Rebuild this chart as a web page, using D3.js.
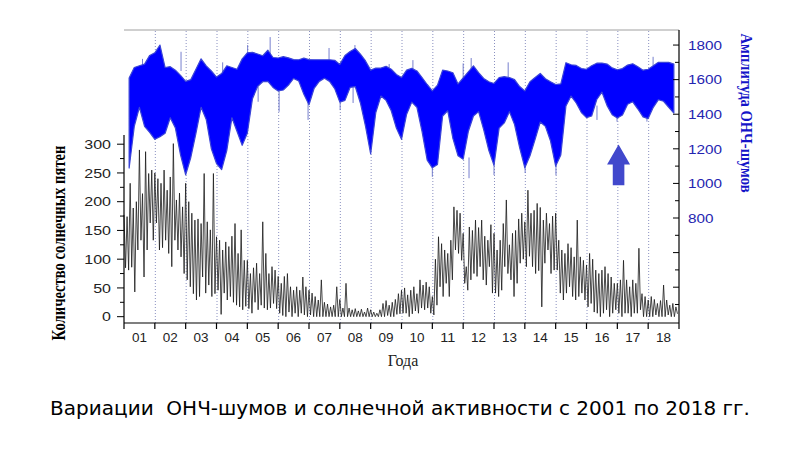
<!DOCTYPE html>
<html>
<head>
<meta charset="utf-8">
<script src="https://cdn.jsdelivr.net/npm/d3@7"></script>
<style>
  html, body { margin: 0; padding: 0; background: #fff; }
  svg { display: block; }
</style>
</head>
<body>
<svg id="chart" width="800" height="449"></svg>
<script>
// ---------- DATA ----------
const yearLabels = ["01","02","03","04","05","06","07","08","09","10","11","12","13","14","15","16","17","18"];
const leftTicks = [0, 50, 100, 150, 200, 250, 300];
const rightTicks = [800, 1000, 1200, 1400, 1600, 1800];

// VLF noise amplitude envelope, every 1/6 year starting 2001 + 1/6
const blueStart = 2001 + 1/6, blueStep = 1/6;
const blueUpper = [
 1609,1670,1680,1690,1740,1755,1800,1670,1675,1655,
 1625,1590,1600,1660,1720,1680,1650,1615,1635,1680,
 1670,1660,1720,1755,1758,1748,1738,1770,1728,1725,
 1733,1726,1716,1715,1724,1716,1715,1715,1715,1715,
 1712,1688,1740,1763,1780,1748,1708,1655,1667,1667,
 1677,1660,1630,1612,1655,1665,1650,1612,1572,1535,
 1568,1655,1650,1640,1575,1610,1645,1680,1640,1607,
 1588,1578,1612,1617,1612,1600,1560,1535,1588,1612,
 1636,1605,1588,1572,1575,1698,1686,1682,1664,1660,
 1680,1695,1696,1690,1668,1657,1664,1684,1692,1675,
 1655,1660,1680,1700,1700,1700,1690];
const blueLower = [
 1089,1330,1440,1330,1295,1255,1270,1290,1380,1320,
 1165,1050,1150,1290,1440,1370,1200,1115,1080,1190,
 1380,1300,1220,1290,1490,1560,1588,1590,1555,1535,
 1540,1568,1607,1592,1515,1455,1550,1590,1608,1590,
 1548,1470,1480,1555,1560,1465,1330,1170,1410,1505,
 1480,1420,1320,1255,1400,1470,1440,1300,1135,1090,
 1110,1390,1420,1260,1160,1140,1300,1390,1415,1310,
 1190,1105,1320,1350,1415,1340,1205,1090,1160,1255,
 1355,1330,1245,1100,1165,1448,1505,1465,1410,1380,
 1390,1485,1528,1450,1397,1378,1395,1458,1472,1430,
 1385,1375,1440,1484,1475,1440,1407];
// isolated spikes of the VLF record: [year, from, to]
const blueSpikes = [
 [2002.85,1650,1761],[2005.74,1720,1846],[2005.01,1700,1800],[2008.49,1740,1800],
 [2008.01,1560,1424],[2006.97,1550,1367],[2006.03,1560,1414],[2005.35,1560,1472],
 [2008.43,1560,1465],[2007.65,1700,1783],[2010.37,1640,1713],[2012.00,1590,1694],
 [2012.26,1640,1725],[2013.46,1600,1700],[2018.16,1680,1732],[2012.19,1150,1030],
 [2013.00,1150,1048],[2011.00,1150,1038],[2014.01,1150,1060],[2015.01,1150,1048],
 [2016.34,1450,1367],[2016.99,1440,1357],[2017.96,1440,1357],[2003.45,1550,1440],
 [2004.2,1600,1700],[2009.6,1600,1690],[2001.6,1650,1720]];

// Sunspot number: high / low readings every 1/10 year from 2001
const spotStart = 2001, spotStep = 0.1;
const spotHigh = [
 177,174,232,189,200,290,214,287,249,255,
 250,240,232,255,220,243,301,203,215,191,
 232,200,180,168,170,162,249,165,151,249,
 139,133,116,130,122,140,162,110,151,98,
 98,75,85,93,75,165,110,75,87,81,
 70,58,70,75,52,46,52,46,69,52,
 46,41,35,29,64,25,22,17,20,52,
 30,15,58,15,12,14,10,13,8,15,
 12,8,6,12,23,28,20,25,30,40,
 46,50,38,46,52,40,64,55,60,52,
 35,100,139,127,116,110,133,191,185,180,
 145,87,156,150,168,155,168,140,133,160,
 145,116,133,162,203,125,145,150,170,180,
 165,220,180,185,197,190,168,180,162,175,
 180,133,116,110,127,120,104,168,104,98,
 90,110,100,81,75,81,87,75,69,58,
 58,64,98,64,52,64,58,119,40,35,
 29,35,30,23,28,55,29,20,23,17];
const spotLow = [
 85,81,86,43,116,133,69,116,163,133,
 163,116,120,133,110,87,133,116,104,75,
 64,52,40,29,35,69,41,55,35,40,
 46,4,41,29,35,25,20,17,12,18,
 14,6,25,12,20,15,12,15,23,14,
 6,2,0,8,0,6,0,6,3,0,
 3,0,0,0,0,0,0,0,0,0,
 0,0,0,0,0,0,0,0,0,0,
 0,0,0,0,0,2,0,0,4,5,
 6,6,0,5,10,6,15,12,15,6,
 3,20,52,35,58,35,64,116,110,98,
 58,46,64,75,70,87,64,55,87,41,
 41,35,46,87,75,64,35,58,93,100,
 87,105,87,75,80,17,93,116,75,81,
 81,41,29,41,52,35,29,35,41,29,
 17,23,8,6,0,6,12,0,6,12,
 6,0,6,6,0,6,6,12,0,0,
 0,0,3,0,0,0,3,0,0,5];

// annotation arrow (year, amplitude from -> to)
const arrow = { year: 2017.04, from: 990, to: 1225 };

const texts = {
  leftTitle: "Количество солнечных пятен",
  rightTitle: "Амплитуда ОНЧ-шумов",
  xTitle: "Года",
  caption: "Вариации  ОНЧ-шумов и солнечной активности с 2001 по 2018 гг."
};

// ---------- CHART ----------
const svg = d3.select("#chart");
svg.append("rect").attr("width", 800).attr("height", 449).attr("fill", "#fff");

const x = d3.scaleLinear().domain([2001, 2019]).range([124, 679]);
const yL = d3.scaleLinear().domain([-11, 316]).range([323, 135]);
const yR = d3.scaleLinear().domain([193, 1887]).range([323, 30]);

// top border
svg.append("line").attr("x1", 124).attr("x2", 679).attr("y1", 30).attr("y2", 30)
  .attr("stroke", "#a0a0a0").attr("stroke-width", 1);

// dotted grid at year boundaries
const bounds = d3.range(2002, 2019);
svg.append("g").selectAll("line").data(bounds).join("line")
  .attr("x1", d => x(d) + 0.5).attr("x2", d => x(d) + 0.5)
  .attr("y1", 31).attr("y2", 323)
  .attr("stroke", "#8a90c0").attr("stroke-width", 1).attr("stroke-dasharray", "1,2");

// blue band
const blueData = blueUpper.map((u, i) => ({ t: blueStart + i * blueStep, u, l: blueLower[i] }));
const area = d3.area().x(d => x(d.t)).y0(d => yR(d.l)).y1(d => yR(d.u));
svg.append("g").selectAll("line").data(blueSpikes).join("line")
  .attr("x1", d => x(d[0])).attr("x2", d => x(d[0]))
  .attr("y1", d => yR(d[1])).attr("y2", d => yR(d[2]))
  .attr("stroke", "#6670c8").attr("stroke-width", 0.9);
svg.append("path").datum(blueData).attr("d", area)
  .attr("fill", "#0000ff").attr("stroke", "#3a44d8").attr("stroke-width", 1.2).attr("stroke-linejoin", "round");

// sunspot line
const spotPts = [];
spotHigh.forEach((h, i) => {
  spotPts.push({ t: spotStart + i * spotStep, v: h });
  spotPts.push({ t: spotStart + i * spotStep + spotStep / 2, v: spotLow[i] });
});
const line = d3.line().x(d => x(d.t)).y(d => yL(d.v));
svg.append("path").datum(spotPts).attr("d", line)
  .attr("fill", "none").attr("stroke", "#1a1a1a").attr("stroke-width", 0.8).attr("stroke-linejoin", "miter");

// arrow
{
  const cx = x(arrow.year), yb = yR(arrow.from), yt = yR(arrow.to);
  const headH = 20, headW = 11.5, shaftW = 5.8;
  const pts = [[cx, yt], [cx + headW, yt + headH], [cx + shaftW, yt + headH], [cx + shaftW, yb],
               [cx - shaftW, yb], [cx - shaftW, yt + headH], [cx - headW, yt + headH]];
  svg.append("polygon").attr("points", pts.map(p => p.join(",")).join(" ")).attr("fill", "#4148cc");
}

// left axis
const gL = svg.append("g").attr("transform", "translate(124,0)");
gL.append("line").attr("x1", 0).attr("x2", 0).attr("y1", 135).attr("y2", 323).attr("stroke", "#000").attr("stroke-width", 1.2);
gL.selectAll(".maj").data(leftTicks).join("line")
  .attr("x1", -7).attr("x2", 0).attr("y1", d => yL(d)).attr("y2", d => yL(d)).attr("stroke", "#000");
gL.selectAll(".min").data(d3.range(25, 325, 50)).join("line")
  .attr("x1", -4).attr("x2", 0).attr("y1", d => yL(d)).attr("y2", d => yL(d)).attr("stroke", "#000");
gL.selectAll("text").data(leftTicks).join("text")
  .attr("x", -13).attr("y", d => yL(d)).attr("dy", "0.36em").attr("text-anchor", "end")
  .attr("font-family", "Liberation Sans, Arial, sans-serif").attr("font-size", 13).attr("fill", "#222")
  .attr("textLength", d => String(d).length * 8.9).attr("lengthAdjust", "spacingAndGlyphs")
  .text(d => d);

// right axis
const gR = svg.append("g").attr("transform", "translate(679,0)");
gR.append("line").attr("x1", 0).attr("x2", 0).attr("y1", 30).attr("y2", 323).attr("stroke", "#000").attr("stroke-width", 1.2);
gR.selectAll(".maj").data(d3.range(400, 1900, 200)).join("line")
  .attr("x1", -6).attr("x2", 0).attr("y1", d => yR(d)).attr("y2", d => yR(d)).attr("stroke", "#000");
gR.selectAll(".min").data(d3.range(300, 1800, 200)).join("line")
  .attr("x1", -4).attr("x2", 0).attr("y1", d => yR(d)).attr("y2", d => yR(d)).attr("stroke", "#000");
gR.selectAll("text").data(rightTicks).join("text")
  .attr("x", 9).attr("y", d => yR(d)).attr("dy", "0.36em").attr("text-anchor", "start")
  .attr("font-family", "Liberation Sans, Arial, sans-serif").attr("font-size", 13).attr("fill", "#2424b0")
  .attr("textLength", d => String(d).length * 8.5).attr("lengthAdjust", "spacingAndGlyphs")
  .text(d => d);

// x axis
const gX = svg.append("g");
gX.append("line").attr("x1", 124).attr("x2", 679).attr("y1", 323).attr("y2", 323).attr("stroke", "#000").attr("stroke-width", 1.2);
gX.selectAll(".tk").data(d3.range(2001, 2020)).join("line")
  .attr("x1", d => x(d)).attr("x2", d => x(d)).attr("y1", 323).attr("y2", 329).attr("stroke", "#000").attr("stroke-width", 1.2);
gX.selectAll("text").data(yearLabels).join("text")
  .attr("x", (d, i) => x(2001 + i + 0.5)).attr("y", 342).attr("text-anchor", "middle")
  .attr("font-family", "Liberation Sans, Arial, sans-serif").attr("font-size", 13).attr("fill", "#222")
  .attr("textLength", 15).attr("lengthAdjust", "spacingAndGlyphs")
  .text(d => d);

// titles
svg.append("text").attr("transform", "translate(65,243) rotate(-90)")
  .attr("text-anchor", "middle").attr("font-family", "Liberation Serif, Times New Roman, serif")
  .attr("font-weight", "bold").attr("font-size", 19).attr("fill", "#000")
  .attr("textLength", 195).attr("lengthAdjust", "spacingAndGlyphs")
  .text(texts.leftTitle);

svg.append("text").attr("transform", "translate(741,113) rotate(90)")
  .attr("text-anchor", "middle").attr("font-family", "Liberation Serif, Times New Roman, serif")
  .attr("font-weight", "bold").attr("font-size", 17).attr("fill", "#1414c8")
  .attr("textLength", 159).attr("lengthAdjust", "spacingAndGlyphs")
  .text(texts.rightTitle);

svg.append("text").attr("x", 403).attr("y", 366).attr("text-anchor", "middle")
  .attr("font-family", "Liberation Serif, Times New Roman, serif").attr("font-size", 16).attr("fill", "#222")
  .text(texts.xTitle);

svg.append("text").attr("x", 400).attr("y", 415).attr("text-anchor", "middle")
  .attr("font-family", "DejaVu Sans, sans-serif").attr("font-size", 20).attr("fill", "#000")
  .style("white-space", "pre")
  .text(texts.caption);
</script>
</body>
</html>
